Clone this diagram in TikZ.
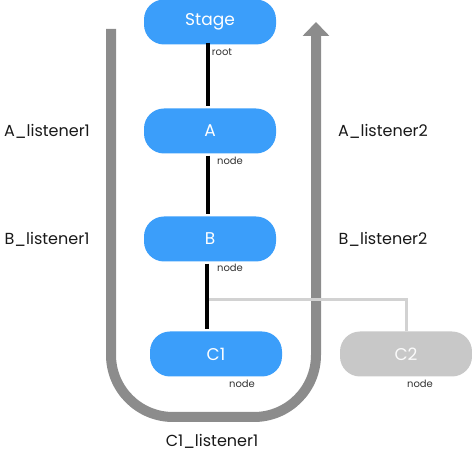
\documentclass[tikz,border=0pt]{standalone}
\usepackage{fontspec}
\setmainfont{Poppins}
\usetikzlibrary{arrows.meta}
\definecolor{nodeblue}{RGB}{59,158,250}
\definecolor{flowgray}{RGB}{140,140,140}
\definecolor{offgray}{RGB}{200,200,200}
\definecolor{linkgray}{RGB}{210,210,210}
\tikzset{
    treenode/.style={rounded corners=20pt,fill=nodeblue,text=white,minimum width=132pt,minimum height=45pt,inner sep=0pt,font=\fontsize{17}{19}\selectfont},
    ghostnode/.style={treenode,fill=offgray,text=white!92!offgray},
    tag/.style={font=\fontsize{10}{11}\selectfont,text=black!80,inner sep=0pt},
    listener/.style={font=\fontsize{16}{18}\selectfont,text=black!90,inner sep=0pt},
    link/.style={line width=4pt,black},
}
\begin{document}
\begin{tikzpicture}[x=1pt,y=-1pt]
        \useasboundingbox(0,0)rectangle(472,454);
        % capture / bubble path
        \draw[flowgray,line width=10pt,rounded corners=62pt,-{Triangle[length=14pt,width=26pt]}](111,29)--(111,417)--(316,417)--(316,22);
        \node[treenode](stage)at(210,22){Stage};
        \node[treenode](a)at(210,131){A};
        \node[treenode](b)at(210,239){B};
        \node[treenode](c1)at(216,354){C1};
        \node[ghostnode](c2)at(406,354){C2};
        \coordinate(bend)at(406,300);
        \coordinate(join)at(208,300);
        \draw[linkgray,line width=3pt](c2.north)--(bend)--(join);
        \draw[link]([xshift=-2pt,yshift=2pt]stage.south)--([xshift=-2pt,yshift=2pt]a.north);
        \draw[link]([xshift=-2pt,yshift=-2pt]a.south)--([xshift=-2pt,yshift=2pt]b.north);
        \draw[link]([xshift=-3pt,yshift=-2pt]b.south)--([xshift=-9pt,yshift=2pt]c1.north);
        \node[tag](stagetag)at(222,52){root};
        \node[tag](atag)at(230,161){node};
        \node[tag](btag)at(230,268){node};
        \node[tag](c1tag)at(242,384){node};
        \node[tag](c2tag)at(420,384){node};
        \node[listener](al1)at(47,131){A\_listener1};
        \node[listener](bl1)at(47,239){B\_listener1};
        \node[listener](al2)at(383,131){A\_listener2};
        \node[listener](bl2)at(383,239){B\_listener2};
        \node[listener](cl1)at(212,441){C1\_listener1};
    \end{tikzpicture}
\end{document}
